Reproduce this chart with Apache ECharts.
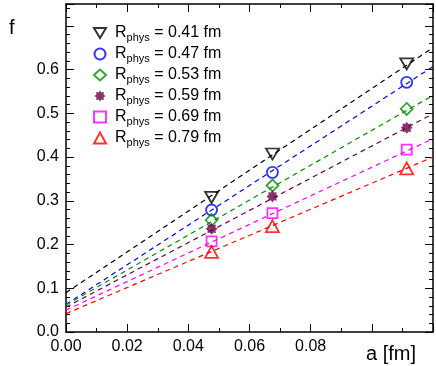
<!DOCTYPE html>
<html>
<head>
<meta charset="utf-8">
<script src="https://cdn.jsdelivr.net/npm/echarts@6/dist/echarts.min.js"></script>
<style>
  html, body { margin: 0; padding: 0; background: #fff; }
  #chart { width: 436px; height: 366px; }
</style>
</head>
<body>
<div id="chart"></div>
<script>
// lattice spacings of the data points
const aValues = [0.0476, 0.0675, 0.1114];
// f for each R_phys
const fR041 = [0.308, 0.407, 0.613];
const fR047 = [0.279, 0.365, 0.571];
const fR053 = [0.256, 0.335, 0.510];
const fR059 = [0.236, 0.310, 0.467];
const fR069 = [0.207, 0.272, 0.417];
const fR079 = [0.183, 0.242, 0.374];
// linear fit end points (a = 0 and a = 0.12)
const fitA = [0, 0.12];
const fit041 = [0.090, 0.650];
const fit047 = [0.063, 0.607];
const fit053 = [0.062, 0.541];
const fit059 = [0.057, 0.499];
const fit069 = [0.050, 0.442];
const fit079 = [0.042, 0.400];

const xTicks = [0, 0.02, 0.04, 0.06, 0.08];
const yTicks = [0, 0.1, 0.2, 0.3, 0.4, 0.5, 0.6];

const FONT = 'Liberation Sans, Arial, Helvetica, sans-serif';

// filled 8-pointed star for the 0.59 fm points
function starPath() {
  const pts = [];
  for (let i = 0; i < 16; i++) {
    const r = i % 2 === 0 ? 10 : 7;
    const ang = Math.PI * i / 8 - Math.PI / 2;
    pts.push((r * Math.cos(ang)).toFixed(2) + ',' + (r * Math.sin(ang)).toFixed(2));
  }
  return 'path://M' + pts.join('L') + 'Z';
}
const downTriangle = 'path://M0,0L12,0L6,10Z';

const sets = [
  { label: '0.41', data: fR041, fit: fit041, color: '#000000', symbol: downTriangle, hollow: true, size: [13, 11] },
  { label: '0.47', data: fR047, fit: fit047, color: '#0000ff', symbol: 'circle', hollow: true, size: 11 },
  { label: '0.53', data: fR053, fit: fit053, color: '#009000', symbol: 'diamond', hollow: true, size: 12 },
  { label: '0.59', data: fR059, fit: fit059, color: '#660044', symbol: starPath(), hollow: false, size: 12 },
  { label: '0.69', data: fR069, fit: fit069, color: '#ff00ff', symbol: 'rect', hollow: true, size: 10 },
  { label: '0.79', data: fR079, fit: fit079, color: '#ff0000', symbol: 'triangle', hollow: true, size: [13, 12] }
];

const series = [];
sets.forEach(function (s) {
  series.push({
    type: 'line',
    data: fitA.map(function (a, i) { return [a, s.fit[i]]; }),
    showSymbol: false,
    silent: true,
    lineStyle: { color: s.color, width: 1.2, type: [5, 4] },
    z: 1
  });
});
sets.forEach(function (s) {
  series.push({
    name: s.label,
    type: 'scatter',
    data: aValues.map(function (a, i) { return [a, s.data[i]]; }),
    symbol: s.symbol,
    symbolSize: s.size,
    itemStyle: s.hollow
      ? { color: 'rgba(255,255,255,0)', borderColor: s.color, borderWidth: 1.8 }
      : { color: s.color },
    z: 3
  });
});

function xAxisDef(pos, labels) {
  return {
    type: 'value', position: pos, min: 0, max: 0.12, interval: 0.02,
    axisLine: { show: true, onZero: false, lineStyle: { color: '#000', width: 1.5 } },
    axisTick: { show: true, inside: true, length: 8, lineStyle: { color: '#000', width: 1 } },
    minorTick: { show: true, splitNumber: 2, length: 4, lineStyle: { color: '#000', width: 1 } },
    axisLabel: {
      show: labels, color: '#000', fontSize: 16, fontFamily: FONT, margin: 7,
      showMaxLabel: false,
      formatter: function (v) {
        return xTicks.some(function (t) { return Math.abs(t - v) < 1e-9; }) ? v.toFixed(2) : '';
      }
    },
    splitLine: { show: false }
  };
}
function yAxisDef(pos, labels) {
  return {
    type: 'value', position: pos, min: 0, max: 0.75, interval: 0.1,
    axisLine: { show: true, onZero: false, lineStyle: { color: '#000', width: 1.5 } },
    axisTick: { show: true, inside: true, length: 8, lineStyle: { color: '#000', width: 1 } },
    minorTick: { show: true, splitNumber: 5, length: 4, lineStyle: { color: '#000', width: 1 } },
    axisLabel: {
      show: labels, color: '#000', fontSize: 16, fontFamily: FONT, margin: 7,
      showMaxLabel: false,
      formatter: function (v) {
        return yTicks.some(function (t) { return Math.abs(t - v) < 1e-9; }) ? v.toFixed(1) : '';
      }
    },
    splitLine: { show: false }
  };
}

const chart = echarts.init(document.getElementById('chart'));
chart.setOption({
  animation: false,
  backgroundColor: '#fff',
  grid: { left: 66, right: 3, top: 4, bottom: 34, containLabel: false },
  xAxis: [xAxisDef('bottom', true), xAxisDef('top', false)],
  yAxis: [yAxisDef('left', true), yAxisDef('right', false)],
  legend: {
    orient: 'vertical', left: 88, top: 20,
    itemWidth: 12, itemHeight: 11, itemGap: 2.5,
    data: sets.map(function (s) { return s.label; }),
    formatter: function (name) { return '{r|R}{sub|phys}{t| = ' + name + ' fm}'; },
    textStyle: {
      fontFamily: FONT, color: '#000',
      rich: {
        r: { fontSize: 16, fontFamily: FONT, lineHeight: 21, padding: [0, 0, 0, 4] },
        sub: { fontSize: 11, fontFamily: FONT, lineHeight: 10, verticalAlign: 'bottom' },
        t: { fontSize: 16, fontFamily: FONT, lineHeight: 21 }
      }
    }
  },
  graphic: [
    { type: 'text', left: 9, top: 18, style: { text: 'f', fontSize: 20, fontFamily: FONT, fill: '#000' } },
    { type: 'text', left: 366, top: 344, style: { text: 'a [fm]', fontSize: 20, fontFamily: FONT, fill: '#000' } }
  ],
  series: series
});
</script>
</body>
</html>
